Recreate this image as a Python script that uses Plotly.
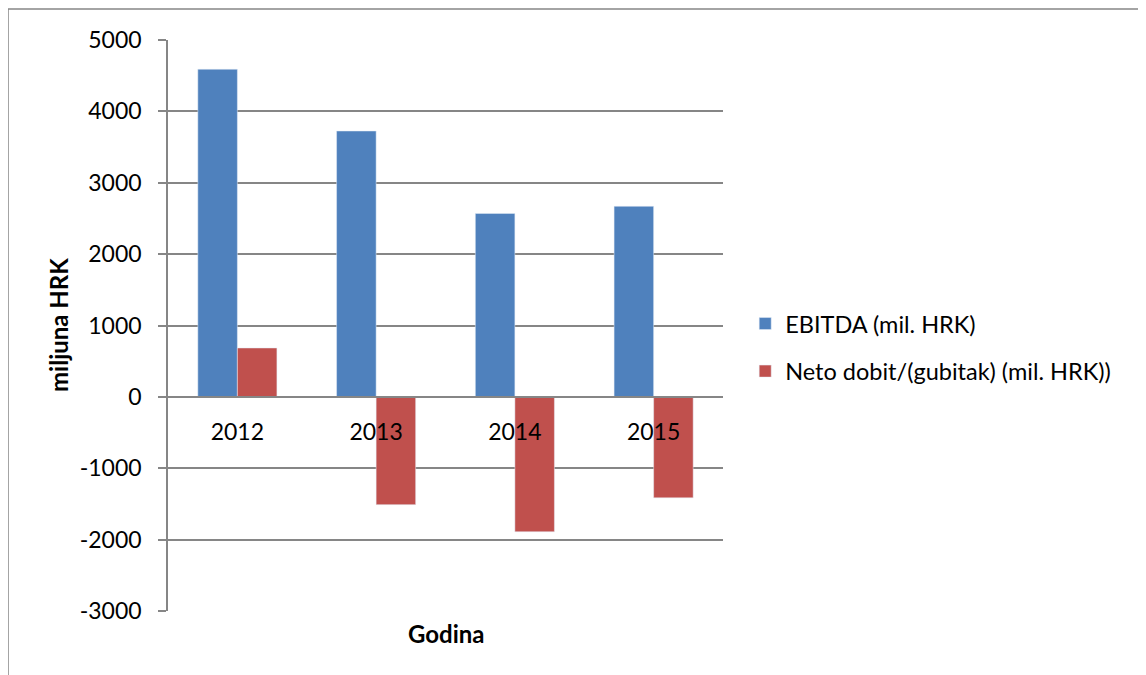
import plotly.graph_objects as go

years = ["2012", "2013", "2014", "2015"]
ebitda = [4590, 3725, 2570, 2670]
neto = [685, -1510, -1890, -1415]
ytick_vals = [-3000, -2000, -1000, 0, 1000, 2000, 3000, 4000, 5000]
ytick_text = ["-3000", "-2000", "-1000", "0", "1000", "2000", "3000", "4000", "5000"]

FONT = "Lato"
GRID = "#868686"

fig = go.Figure()
fig.add_trace(go.Bar(x=years, y=ebitda, name="EBITDA (mil. HRK)",
                     marker=dict(color="#4F81BD"), legendgroup="a"))
fig.add_trace(go.Bar(x=years, y=neto, name="Neto dobit/(gubitak) (mil. HRK))",
                     marker=dict(color="#C0504D"), legendgroup="b"))

# figure is placed at an 8px page offset by the browser body margin
W, H = 1138, 667
L, R, T, B = 160, 715, 32, 603
PW, PH = R - L, B - T

fig.update_layout(
    width=W, height=H,
    margin=dict(l=L, r=W - R, t=T, b=H - B, pad=0, autoexpand=False),
    paper_bgcolor="white", plot_bgcolor="white",
    barmode="group", bargap=0.43, bargroupgap=0,
    font=dict(family=FONT, size=23, color="black"),
    showlegend=True,
    legend=dict(x=1.04, y=0.461, xanchor="left", yanchor="middle",
                font=dict(family=FONT, size=23.5), tracegroupgap=14,
                bgcolor="rgba(0,0,0,0)"),
    xaxis=dict(anchor="free", position=0.375, showline=True, linecolor=GRID,
               linewidth=1.5, ticks="", showgrid=False, zeroline=False,
               automargin=False,
               ticklabelstandoff=15, tickfont=dict(family=FONT, size=23)),
    yaxis=dict(range=[-3000, 5000], tickvals=ytick_vals, ticktext=ytick_text,
               showgrid=True, gridcolor=GRID, automargin=False,
               gridwidth=1.5, zeroline=False, showline=True, linecolor=GRID,
               linewidth=1.5, ticks="outside", ticklen=8, tickcolor=GRID,
               tickwidth=1.5, ticklabelstandoff=12,
               tickfont=dict(family=FONT, size=23)),
    annotations=[
        dict(text="<b>Godina</b>", xref="paper", yref="paper",
             x=(438 - L) / PW, y=(B - 625) / PH,
             xanchor="center", yanchor="middle", showarrow=False,
             font=dict(family=FONT, size=24)),
        dict(text="<b>miljuna HRK</b>", xref="paper", yref="paper",
             x=(50 - L) / PW, y=(B - 317) / PH, textangle=-90,
             xanchor="center", yanchor="middle", showarrow=False,
             font=dict(family=FONT, size=24)),
    ],
    shapes=[
        dict(type="line", xref="paper", yref="paper",
             x0=(0 - L) / PW, x1=(W + 10 - L) / PW,
             y0=(B - 1) / PH, y1=(B - 1) / PH,
             line=dict(color=GRID, width=1.5)),
        dict(type="line", xref="paper", yref="paper",
             x0=(0 - L) / PW, x1=(0 - L) / PW,
             y0=(B - 1) / PH, y1=(B - H - 10) / PH,
             line=dict(color=GRID, width=1.5)),
    ],
)

fig.write_html("out.html")
